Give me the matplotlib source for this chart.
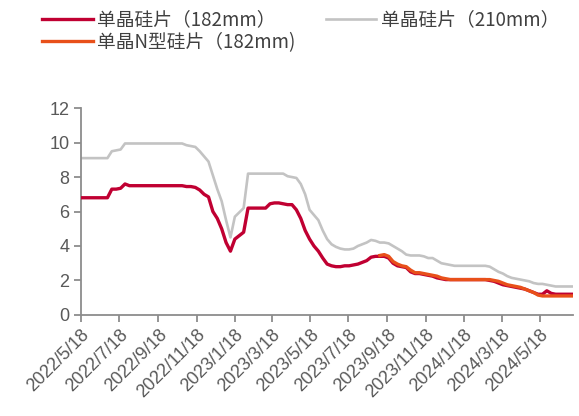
import matplotlib.pyplot as plt
import pandas as pd

plt.rcParams['font.family'] = ['Noto Sans CJK SC', 'DejaVu Sans']

# 周度价格（元/片），2022/5/18 起
semanas = pd.date_range('2022-05-18', periods=113, freq='7D')

p182 = [6.8, 6.8, 6.8, 6.8, 6.8, 6.8, 6.8,
        7.3, 7.3, 7.35, 7.6,
        7.5, 7.5, 7.5, 7.5, 7.5, 7.5, 7.5, 7.5, 7.5, 7.5, 7.5, 7.5, 7.5,
        7.45, 7.45, 7.4, 7.25, 7.0, 6.85, 6.0, 5.6, 5.0, 4.2, 3.7, 4.4, 4.6, 4.8,
        6.2, 6.2, 6.2, 6.2, 6.2, 6.45, 6.5, 6.5, 6.45, 6.4, 6.4, 6.1, 5.6, 4.9,
        4.4, 4.0, 3.7, 3.3, 2.95, 2.85, 2.8, 2.8, 2.85, 2.85, 2.9, 2.95, 3.05,
        3.15, 3.35, 3.4, 3.4, 3.4, 3.3, 3.0, 2.85, 2.8, 2.75, 2.5, 2.4, 2.4,
        2.35, 2.3, 2.25, 2.15, 2.1, 2.05,
        2.05, 2.05, 2.05, 2.05, 2.05, 2.05, 2.05, 2.05, 2.05,
        2.0, 1.95, 1.85, 1.75, 1.7, 1.65, 1.6, 1.55, 1.5, 1.4, 1.3, 1.2, 1.2,
        1.4, 1.25,
        1.2, 1.2, 1.2, 1.2, 1.2]

p210 = [9.1, 9.1, 9.1, 9.1, 9.1, 9.1, 9.1,
        9.5, 9.55, 9.6, 9.95,
        9.95, 9.95, 9.95, 9.95, 9.95, 9.95, 9.95, 9.95, 9.95, 9.95, 9.95, 9.95, 9.95,
        9.85, 9.8, 9.75, 9.5, 9.2, 8.9, 8.1, 7.3, 6.6, 5.5, 4.5, 5.7, 5.95, 6.2,
        8.2, 8.2, 8.2, 8.2, 8.2, 8.2, 8.2, 8.2, 8.2,
        8.05, 8.0, 7.95, 7.6, 7.0, 6.1, 5.8, 5.5, 4.9, 4.4, 4.1, 3.95, 3.85,
        3.8, 3.8, 3.85, 4.0, 4.1, 4.2, 4.35, 4.3, 4.2, 4.2, 4.15, 4.0, 3.85,
        3.7, 3.5, 3.45, 3.45, 3.45, 3.4, 3.3, 3.3, 3.15, 3.0, 2.95, 2.9,
        2.85, 2.85, 2.85, 2.85, 2.85, 2.85, 2.85, 2.85,
        2.8, 2.65, 2.5, 2.4, 2.25, 2.15, 2.1, 2.05, 2.0, 1.95, 1.85, 1.8, 1.8,
        1.75, 1.7,
        1.65, 1.65, 1.65, 1.65, 1.65]

# N型从 2023/9/6 开始报价
n_inicio = 68
p182n = [3.45, 3.5, 3.4, 3.1, 2.95, 2.85, 2.8, 2.6, 2.45, 2.45, 2.4, 2.35,
         2.3, 2.25, 2.15, 2.1,
         2.05, 2.05, 2.05, 2.05, 2.05, 2.05, 2.05, 2.05, 2.05, 2.05,
         2.0, 1.95, 1.85, 1.75, 1.7, 1.65, 1.6, 1.5, 1.4, 1.3, 1.15,
         1.1, 1.1, 1.1, 1.1, 1.1, 1.1, 1.1, 1.1]

rotulos = ['2022/5/18', '2022/7/18', '2022/9/18', '2022/11/18', '2023/1/18',
           '2023/3/18', '2023/5/18', '2023/7/18', '2023/9/18', '2023/11/18',
           '2024/1/18', '2024/3/18', '2024/5/18']

cinza_eixo = '#8c8c8c'
cinza_texto = '#595959'

fig = plt.figure(figsize=(5.79, 4.16), dpi=100)
ax = fig.add_axes([0.14, 0.243, 0.85, 0.497])

l1, = ax.plot(semanas, p182, color='#c00032', lw=2.4, zorder=3,
              label='单晶硅片（182mm）')
l2, = ax.plot(semanas, p210, color='#c3c3c3', lw=1.9, zorder=2,
              label='单晶硅片（210mm）')
l3, = ax.plot(semanas[n_inicio:], p182n, color='#e8501a', lw=2.4, zorder=4,
              label='单晶N型硅片（182mm)')

ax.set_xlim(semanas[0], semanas[-1])
ax.set_ylim(0, 12)
ax.set_yticks(range(0, 13, 2))

ax.set_xticks(pd.to_datetime(rotulos, format='%Y/%m/%d'))
ax.set_xticklabels(rotulos, rotation=45, ha='right', rotation_mode='anchor')

for lado in ['top', 'right']:
    ax.spines[lado].set_visible(False)
for lado in ['left', 'bottom']:
    ax.spines[lado].set_color(cinza_eixo)
    ax.spines[lado].set_linewidth(1.3)

ax.tick_params(axis='both', colors=cinza_eixo, width=1.3, length=5,
               labelcolor=cinza_texto, labelsize=13)
ax.tick_params(axis='x', pad=3)
for t in ax.get_xticklabels() + ax.get_yticklabels():
    t.set_family(['Liberation Sans', 'DejaVu Sans'])

fig.legend(handles=[l1, l3, l2], ncol=2, loc='upper left',
           bbox_to_anchor=(0.053, 1.005), frameon=False, fontsize=13.5,
           handlelength=2.7, handletextpad=0.25, columnspacing=1.6,
           labelspacing=0.1, borderpad=0.1, labelcolor='#404040')

fig.savefig('out.png', dpi=100)
